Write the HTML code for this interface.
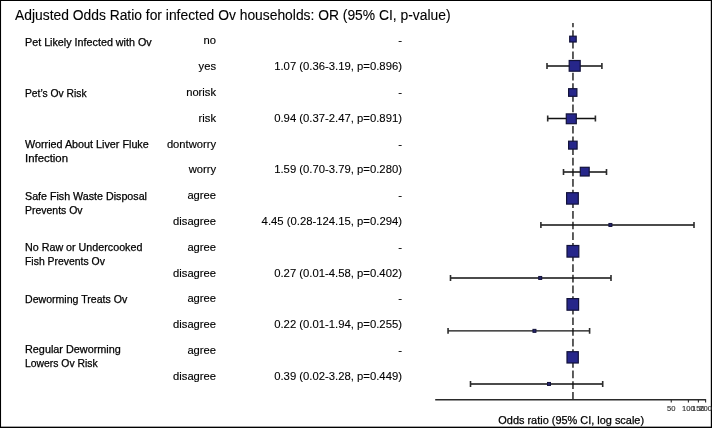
<!DOCTYPE html>
<html><head><meta charset="utf-8">
<style>
html,body{margin:0;padding:0;background:#fff;}
body{width:712px;height:428px;position:relative;overflow:hidden;font-family:"Liberation Sans",Arial,sans-serif;color:#000;}
.t{position:absolute;white-space:nowrap;line-height:1;-webkit-text-stroke:0.25px #000;}
#title{left:15.0px;top:9px;font-size:13.85px;-webkit-text-stroke:0.1px #000;}
.lab{left:25px;font-size:10.7px;transform-origin:0 0;}
.lev{right:496px;font-size:11.2px;text-align:right;-webkit-text-stroke:0.15px #000;}
.est{right:310px;font-size:11.3px;text-align:right;-webkit-text-stroke:0.1px #000;}
svg{position:absolute;left:0;top:0;}
</style></head><body>
<div class="t" id="title">Adjusted Odds Ratio for infected Ov households: OR (95% CI, p-value)</div>

<div class="t lab" style="top:37px;transform:scaleX(1.006)">Pet Likely Infected with Ov</div>
<div class="t lab" style="top:88px;transform:scaleX(0.964)">Pet’s Ov Risk</div>
<div class="t lab" style="top:139px;transform:scaleX(1.008)">Worried About Liver Fluke</div>
<div class="t lab" style="top:153px;transform:scaleX(1.064)">Infection</div>
<div class="t lab" style="top:191px">Safe Fish Waste Disposal</div>
<div class="t lab" style="top:205px;transform:scaleX(0.979)">Prevents Ov</div>
<div class="t lab" style="top:242px;transform:scaleX(1.003)">No Raw or Undercooked</div>
<div class="t lab" style="top:255.5px;transform:scaleX(0.975)">Fish Prevents Ov</div>
<div class="t lab" style="top:294.3px;transform:scaleX(0.989)">Deworming Treats Ov</div>
<div class="t lab" style="top:344px;transform:scaleX(1.0145)">Regular Deworming</div>
<div class="t lab" style="top:357.5px;transform:scaleX(0.972)">Lowers Ov Risk</div>
<div class="t lev" style="top:35px">no</div>
<div class="t lev" style="top:61px">yes</div>
<div class="t lev" style="top:87px">norisk</div>
<div class="t lev" style="top:113px">risk</div>
<div class="t lev" style="top:139px">dontworry</div>
<div class="t lev" style="top:164px">worry</div>
<div class="t lev" style="top:190px">agree</div>
<div class="t lev" style="top:216px">disagree</div>
<div class="t lev" style="top:242px">agree</div>
<div class="t lev" style="top:267.5px">disagree</div>
<div class="t lev" style="top:293px">agree</div>
<div class="t lev" style="top:319.3px">disagree</div>
<div class="t lev" style="top:345px">agree</div>
<div class="t lev" style="top:370.6px">disagree</div>
<div class="t est" style="top:35px">-</div>
<div class="t est" style="top:61px">1.07 (0.36-3.19, p=0.896)</div>
<div class="t est" style="top:87px">-</div>
<div class="t est" style="top:113px">0.94 (0.37-2.47, p=0.891)</div>
<div class="t est" style="top:139px">-</div>
<div class="t est" style="top:164px">1.59 (0.70-3.79, p=0.280)</div>
<div class="t est" style="top:190px">-</div>
<div class="t est" style="top:216px">4.45 (0.28-124.15, p=0.294)</div>
<div class="t est" style="top:242px">-</div>
<div class="t est" style="top:267.5px">0.27 (0.01-4.58, p=0.402)</div>
<div class="t est" style="top:293px">-</div>
<div class="t est" style="top:319.3px">0.22 (0.01-1.94, p=0.255)</div>
<div class="t est" style="top:345px">-</div>
<div class="t est" style="top:370.6px">0.39 (0.02-3.28, p=0.449)</div>
<svg width="712" height="428" viewBox="0 0 712 428">
 <g fill="#000"><rect x="0" y="0" width="712" height="1"/><rect x="0" y="0" width="1.05" height="428"/><rect x="710.8" y="0" width="1.2" height="428"/><rect x="0" y="426.65" width="712" height="1.35"/></g>
 <line x1="572.95" y1="22.9" x2="572.95" y2="399" stroke="#555" stroke-width="1.9" stroke-dasharray="7.7 2.94" stroke-dashoffset="3.4"/>
 <path d="M547.00 66.00H601.90M547.70 118.50H595.40M563.50 172.00H606.50M540.90 225.00H694.00M450.50 278.00H611.00M448.05 330.90H589.60M470.50 384.00H602.70" stroke="#111" stroke-width="1.4" fill="none"/>
 <path d="M547.00 63.05V68.95M601.90 63.05V68.95M547.70 115.55V121.45M595.40 115.55V121.45M563.50 169.05V174.95M606.50 169.05V174.95M540.90 222.05V227.95M694.00 222.05V227.95M450.50 275.05V280.95M611.00 275.05V280.95M448.05 327.95V333.85M589.60 327.95V333.85M470.50 381.05V386.95M602.70 381.05V386.95" stroke="#2c2c2c" stroke-width="1.6" fill="none"/>
 <g fill="#26268a" stroke="#12123a" stroke-width="1.2">
  <rect x="569.70" y="36.20" width="6.50" height="5.80"/>
  <rect x="569.20" y="60.50" width="11.00" height="10.70"/>
  <rect x="568.60" y="88.70" width="8.30" height="7.60"/>
  <rect x="566.30" y="113.90" width="10.00" height="9.80"/>
  <rect x="568.60" y="141.20" width="8.50" height="7.90"/>
  <rect x="580.30" y="167.30" width="8.90" height="8.70"/>
  <rect x="566.60" y="192.70" width="11.70" height="11.40"/>
  <rect x="567.00" y="245.50" width="11.80" height="11.60"/>
  <rect x="567.00" y="298.60" width="11.60" height="11.60"/>
  <rect x="567.00" y="351.70" width="11.30" height="11.30"/>
 </g>
 <g fill="#24246e" stroke="#14143a" stroke-width="1">
  <rect x="608.90" y="223.45" width="3.00" height="3.00"/>
  <rect x="538.70" y="276.45" width="3.00" height="3.00"/>
  <rect x="532.95" y="329.35" width="3.00" height="3.00"/>
  <rect x="547.50" y="382.45" width="3.00" height="3.00"/>
 </g>
 <path d="M435.2 399.75H705.3" stroke="#2a2a2a" stroke-width="1.7" fill="none"/>
 <path d="M671.25 399.75V402.4M688.4 399.75V402.4M698.4 399.75V402.4M705.6 399V402.4" stroke="#2a2a2a" stroke-width="1.1" fill="none"/>
 <g font-family="Liberation Sans, Arial, sans-serif" font-size="7.6" fill="#333" stroke="#333" stroke-width="0.15" text-anchor="middle">
  <text x="671.2" y="410.6">50</text>
  <text x="688.4" y="410.6">100</text>
  <text x="698.4" y="410.6">150</text>
  <text x="705.6" y="410.6">200</text>
 </g>
 <text x="571.2" y="423.8" font-family="Liberation Sans, Arial, sans-serif" font-size="10.93" fill="#000" stroke="#000" stroke-width="0.25" text-anchor="middle">Odds ratio (95% CI, log scale)</text>
</svg>
</body></html>
